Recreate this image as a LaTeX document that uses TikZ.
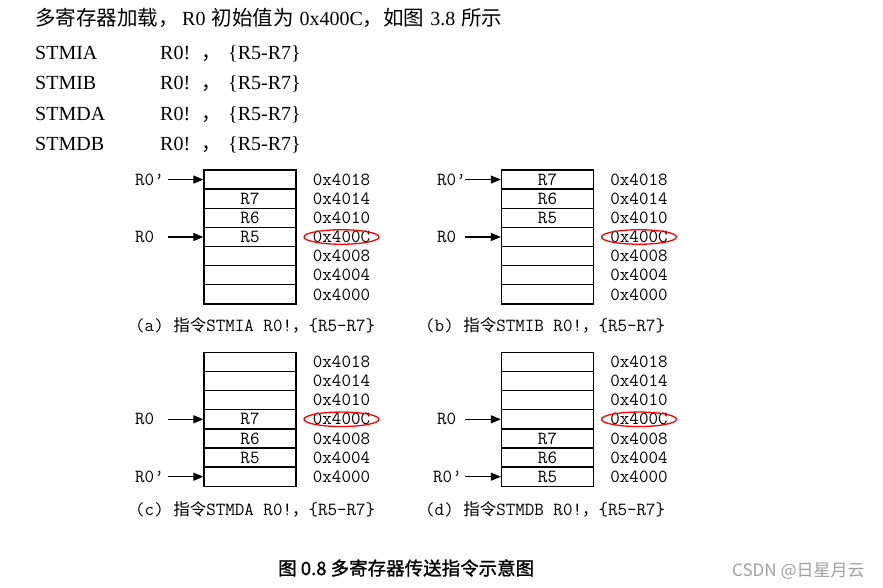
\documentclass[tikz,border=0pt]{standalone}
\usepackage{fontspec}
\setmainfont{Liberation Serif}
\newfontfamily\cjkf{Noto Sans CJK SC}
\newfontfamily\cjkbf[FakeBold=1.2]{Noto Sans CJK SC}
\newfontfamily\monof{Latin Modern Mono}
\usetikzlibrary{arrows.meta,shapes.geometric}
\definecolor{wmgray}{RGB}{160,160,160}
\newcommand{\mfont}{\monof\fontsize{18.5}{19}\selectfont}
\newcommand{\ccj}[1]{{\cjkf\fontsize{16.5}{17}\selectfont #1}}
\newcommand{\hcj}[1]{{\cjkf\fontsize{20.5}{21}\selectfont #1}}
\begin{document}
\begin{tikzpicture}[x=1pt,y=-1pt,
  cell/.style={draw, line width=1.3pt, minimum width=92pt, minimum height=19.14pt, inner sep=0pt, font=\mfont},
  addr/.style={inner sep=0pt, font=\mfont},
  lbl/.style={inner sep=0pt, anchor=west, font=\mfont},
  arr/.style={line width=1.1pt, -{Triangle[length=10pt,width=8pt]}},
  hl/.style={draw=red, line width=1.3pt, ellipse, minimum width=75pt, minimum height=14.5pt, inner sep=0pt},
  txt/.style={inner sep=0pt, anchor=base west, font=\fontsize{20}{20}\selectfont},
  capt/.style={inner sep=0pt, anchor=base west, font=\mfont},
]
\useasboundingbox (0,0) rectangle (883,588);
\fill[white] (0,0) rectangle (883,588);

% ---- heading text ----
\node[txt] (h1) at (35,26) {\hcj{多寄存器加载，}\hspace{3.5pt}R0\hspace{6pt}\hcj{初始值为}\hspace{6pt}0x400C\hcj{，如图}\hspace{6pt}3.8\hspace{6pt}\hcj{所示}};
\foreach \n/\ins/\yy in {1/STMIA/59.3, 2/STMIB/90, 3/STMDA/120.7, 4/STMDB/150.7}{
  \node[txt] (ti\n) at (35,\yy) {\ins};
  \node[txt] (tr\n) at (160,\yy) {R0!};
  \node[txt] (tc\n) at (201,\yy) {\cjkf ，};
  \node[txt] (tl\n) at (228,\yy) {\{R5-R7\}};
}

% ---- diagram (a) ----
\foreach \i/\t in {1/,2/R7,3/R6,4/R5,5/,6/,7/}
  \node[cell] (a\i) at (250,{170+19.14*(\i-0.5)}) {\t};
\foreach \i/\t in {1/0x4018,2/0x4014,3/0x4010,4/0x400C,5/0x4008,6/0x4004,7/0x4000}
  \node[addr] (aa\i) at (341.5,{170+19.14*(\i-0.5)}) {\t};
\node[hl] (ea) at (aa4) {};
\node[lbl] (la1) at (135,{170+19.14*0.5}) {R0’};
\node[lbl] (la4) at (135,{170+19.14*3.5}) {R0};
\coordinate (sa1) at (168,{170+19.14*0.5});
\coordinate (sa4) at (168,{170+19.14*3.5});
\draw[arr] (sa1) -- (a1.west);
\draw[arr] (sa4) -- (a4.west);
\node[capt] (ca) at (135,331) {(a) \ccj{指令}STMIA R0!\ccj{，}\{R5-R7\}};

% ---- diagram (b) ----
\foreach \i/\t in {1/R7,2/R6,3/R5,4/,5/,6/,7/}
  \node[cell] (b\i) at (547.5,{170+19.14*(\i-0.5)}) {\t};
\foreach \i/\t in {1/0x4018,2/0x4014,3/0x4010,4/0x400C,5/0x4008,6/0x4004,7/0x4000}
  \node[addr] (ba\i) at (639,{170+19.14*(\i-0.5)}) {\t};
\node[hl] (eb) at (ba4) {};
\node[lbl] (lb1) at (437,{170+19.14*0.5}) {R0’};
\node[lbl] (lb4) at (437,{170+19.14*3.5}) {R0};
\coordinate (sb1) at (465,{170+19.14*0.5});
\coordinate (sb4) at (465,{170+19.14*3.5});
\draw[arr] (sb1) -- (b1.west);
\draw[arr] (sb4) -- (b4.west);
\node[capt] (cb) at (425,331) {(b) \ccj{指令}STMIB R0!\ccj{，}\{R5-R7\}};

% ---- diagram (c) ----
\foreach \i/\t in {1/,2/,3/,4/R7,5/R6,6/R5,7/}
  \node[cell] (c\i) at (250,{352.3+19.14*(\i-0.5)}) {\t};
\foreach \i/\t in {1/0x4018,2/0x4014,3/0x4010,4/0x400C,5/0x4008,6/0x4004,7/0x4000}
  \node[addr] (cc\i) at (341.5,{352.3+19.14*(\i-0.5)}) {\t};
\node[hl] (ec) at (cc4) {};
\node[lbl] (lc4) at (135,{352.3+19.14*3.5}) {R0};
\node[lbl] (lc7) at (135,{352.3+19.14*6.5}) {R0’};
\coordinate (sc4) at (168,{352.3+19.14*3.5});
\coordinate (sc7) at (168,{352.3+19.14*6.5});
\draw[arr] (sc4) -- (c4.west);
\draw[arr] (sc7) -- (c7.west);
\node[capt] (cc) at (135,515.7) {(c) \ccj{指令}STMDA R0!\ccj{，}\{R5-R7\}};

% ---- diagram (d) ----
\foreach \i/\t in {1/,2/,3/,4/,5/R7,6/R6,7/R5}
  \node[cell] (d\i) at (547.5,{352.3+19.14*(\i-0.5)}) {\t};
\foreach \i/\t in {1/0x4018,2/0x4014,3/0x4010,4/0x400C,5/0x4008,6/0x4004,7/0x4000}
  \node[addr] (da\i) at (639,{352.3+19.14*(\i-0.5)}) {\t};
\node[hl] (ed) at (da4) {};
\node[lbl] (ld4) at (437,{352.3+19.14*3.5}) {R0};
\node[lbl] (ld7) at (433,{352.3+19.14*6.5}) {R0’};
\coordinate (sd4) at (465,{352.3+19.14*3.5});
\coordinate (sd7) at (465,{352.3+19.14*6.5});
\draw[arr] (sd4) -- (d4.west);
\draw[arr] (sd7) -- (d7.west);
\node[capt] (cd) at (425,515.7) {(d) \ccj{指令}STMDB R0!\ccj{，}\{R5-R7\}};

% ---- figure caption and watermark ----
\node[inner sep=0pt, anchor=west, font=\cjkbf\fontsize{18.5}{19}\selectfont] (fig) at (278,568) {图 0.8 多寄存器传送指令示意图};
\node[inner sep=0pt, anchor=west, text=wmgray, font=\cjkf\fontsize{17}{17}\selectfont] (wm) at (732,571) {CSDN @日星月云};
\end{tikzpicture}
\end{document}
